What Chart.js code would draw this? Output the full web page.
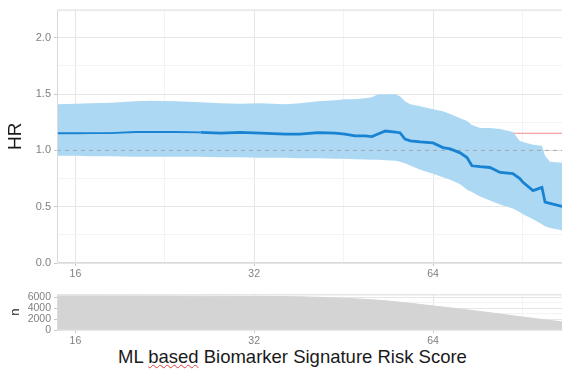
<!DOCTYPE html>
<html>
<head>
<meta charset="utf-8">
<script src="https://cdn.jsdelivr.net/npm/chart.js@4/dist/chart.umd.min.js"></script>
<style>
    html, body { margin: 0; padding: 0; background: #fff; }
    body { width: 562px; height: 369px; position: relative; overflow: hidden; font-family: "Liberation Sans", Arial, sans-serif; }
    #hrChart { position: absolute; left: 0; top: 0; }
    #nChart { position: absolute; left: 0; top: 285px; }
    #xTitle { position: absolute; left: 118px; top: 347px; font-size: 18.5px; line-height: 19px; color: #1a1a1a; white-space: nowrap; }
    #xTitle span { text-decoration: underline wavy #e04040; text-decoration-thickness: 1px; text-underline-offset: 1px; }
</style>
</head>
<body>
<canvas id="hrChart" width="562" height="285"></canvas>
<canvas id="nChart" width="562" height="60"></canvas>
<div id="xTitle">ML <span>based</span> Biomarker Signature Risk Score</div>
<script>
// risk score cut-offs (x axis is log2)
const scores = [14.9, 16.0, 17.0, 18.3, 20.2, 21.4, 23.6, 26.0, 28.1, 30.3, 32.8, 36.1, 38.2, 41.0, 43.8,
    45.5, 47.3, 49.2, 50.5, 51.7, 53.2, 55.3, 56.3, 57.4, 58.6, 60.9, 64.0, 66.5, 68.4, 71.1, 73.0, 74.4,
    76.8, 79.8, 83.0, 87.2, 89.6, 90.7, 94.3, 97.6, 98.8, 100.7, 105.5];

// hazard ratio and 95% CI at each cut-off
const hr = [1.152, 1.152, 1.154, 1.154, 1.163, 1.163, 1.163, 1.159, 1.154, 1.159, 1.154, 1.145, 1.145, 1.157, 1.154,
    1.145, 1.128, 1.128, 1.122, 1.145, 1.172, 1.163, 1.157, 1.101, 1.084, 1.075, 1.066, 1.025, 1.013, 0.978, 0.937, 0.863,
    0.855, 0.848, 0.804, 0.793, 0.749, 0.716, 0.643, 0.672, 0.540, 0.529, 0.502];
const hrUpper = [1.410, 1.414, 1.419, 1.423, 1.436, 1.441, 1.436, 1.427, 1.419, 1.414, 1.419, 1.410, 1.419, 1.436, 1.445,
    1.454, 1.454, 1.463, 1.471, 1.498, 1.498, 1.498, 1.480, 1.436, 1.410, 1.392, 1.366, 1.348, 1.322, 1.286, 1.260, 1.225,
    1.198, 1.198, 1.189, 1.163, 1.084, 1.075, 1.049, 1.040, 0.952, 0.899, 0.890];
const hrLower = [0.952, 0.952, 0.947, 0.947, 0.943, 0.943, 0.943, 0.943, 0.940, 0.938, 0.934, 0.934, 0.930, 0.930, 0.925,
    0.925, 0.921, 0.918, 0.916, 0.916, 0.912, 0.907, 0.899, 0.885, 0.865, 0.828, 0.793, 0.762, 0.740, 0.700, 0.650, 0.630,
    0.590, 0.555, 0.520, 0.485, 0.450, 0.432, 0.388, 0.345, 0.326, 0.310, 0.291];

const overallHr = 1.152;
const refHr = 1.0;

// number of patients per cut-off
const nScores = [14.9, 20, 26, 32, 36, 41, 45.2, 52.1, 58, 64, 70, 76.8, 83, 89.6, 97, 105.5];
const nPatients = [6260, 6250, 6220, 6190, 6150, 6020, 5850, 5450, 4950, 4430, 3940, 3410, 2930, 2450, 1980, 1490];

// axis ticks
const xTicks = [16, 32, 64];
const hrTicks = [0, 0.5, 1.0, 1.5, 2.0];
const nTicks = [0, 2000, 4000, 6000];

const xMin = Math.log2(scores[0]);
const xMax = Math.log2(scores[scores.length - 1]);
const toPoints = (xs, ys) => xs.map((s, i) => ({ x: Math.log2(s), y: ys[i] }));

const fontFamily = '"Liberation Sans", Arial, sans-serif';
const tickFont = { family: fontFamily, size: 10.5 };
const tickColor = '#808080';
const gridMajor = '#e6e6e6';
const gridMinor = '#f3f3f3';

// 面板边框 (top / left / bottom)
const panelBorder = {
    id: 'panelBorder',
    afterDraw(chart) {
        const { ctx, chartArea: a } = chart;
        ctx.save();
        ctx.strokeStyle = '#dadada';
        ctx.lineWidth = 1;
        ctx.beginPath();
        ctx.moveTo(chart.width, a.top + 0.5);
        ctx.lineTo(a.left + 0.5, a.top + 0.5);
        ctx.lineTo(a.left + 0.5, a.bottom - 0.5);
        ctx.lineTo(chart.width, a.bottom - 0.5);
        ctx.stroke();
        ctx.restore();
    }
};

// x axis shared by both panels: log2 score, minor lines half way
function xScale(height) {
    const majors = xTicks.map(t => Math.log2(t));
    return {
        type: 'linear',
        min: xMin,
        max: xMax,
        afterBuildTicks: scale => {
            const vals = [];
            majors.forEach(v => { vals.push(v - 0.5, v); });
            vals.push(majors[majors.length - 1] + 0.5);
            scale.ticks = vals.filter(v => v >= xMin && v <= xMax).map(v => ({ value: v }));
        },
        afterFit: scale => { scale.height = height; },
        ticks: {
            autoSkip: false,
            maxRotation: 0,
            padding: 2,
            color: tickColor,
            font: tickFont,
            callback: v => Number.isInteger(v) ? String(Math.round(2 ** v)) : ''
        },
        grid: {
            color: c => c.tick && Number.isInteger(c.tick.value) ? gridMajor : gridMinor,
            tickColor: c => c.tick && Number.isInteger(c.tick.value) ? '#c8c8c8' : 'rgba(0,0,0,0)',
            tickLength: 3
        },
        border: { display: false }
    };
}

// y axis with labelled majors and unlabelled minors in between
function yScale(max, majors, step, title, titleSize, titlePad, fontSize, fmt) {
    return {
        min: 0,
        max: max,
        afterBuildTicks: scale => {
            const vals = [];
            majors.forEach(v => { vals.push(v, v + step); });
            scale.ticks = vals.filter(v => v <= majors[majors.length - 1]).map(v => ({ value: v }));
        },
        afterFit: scale => { scale.width = 57; },
        title: {
            display: true,
            text: title,
            color: '#1a1a1a',
            font: { family: fontFamily, size: titleSize },
            padding: { top: titlePad, bottom: 0 }
        },
        ticks: {
            autoSkip: false,
            padding: 3,
            color: tickColor,
            font: { family: fontFamily, size: fontSize },
            callback: v => majors.includes(v) ? fmt(v) : ''
        },
        grid: {
            color: c => c.tick && majors.includes(c.tick.value) ? gridMajor : gridMinor,
            tickColor: c => c.tick && majors.includes(c.tick.value) ? '#c8c8c8' : 'rgba(0,0,0,0)',
            tickLength: 3
        },
        border: { display: false }
    };
}

new Chart(document.getElementById('hrChart'), {
    type: 'line',
    data: {
        datasets: [
            {
                data: toPoints(scores, hr),
                borderColor: '#1883d2',
                borderWidth: 2.6,
                pointRadius: 0,
                tension: 0,
                order: 0,
                segment: {
                    borderWidth: c => c.p0.parsed.x < Math.log2(26) ? 1.8 : 2.8
                }
            },
            {
                data: toPoints([scores[0], scores[scores.length - 1]], [refHr, refHr]),
                borderColor: '#a0a8b0',
                borderWidth: 1,
                borderDash: [4, 4],
                pointRadius: 0,
                order: 1
            },
            {
                data: toPoints(scores, hrUpper),
                borderWidth: 0,
                pointRadius: 0,
                backgroundColor: '#acd8f3',
                fill: '+1',
                order: 2
            },
            {
                data: toPoints(scores, hrLower),
                borderWidth: 0,
                pointRadius: 0,
                order: 3
            },
            {
                data: toPoints([scores[0], scores[scores.length - 1]], [overallHr, overallHr]),
                borderColor: '#f08a8a',
                borderWidth: 1,
                pointRadius: 0,
                order: 4
            }
        ]
    },
    options: {
        responsive: false,
        animation: false,
        layout: { padding: { top: 8, right: 0, left: 0, bottom: 0 } },
        plugins: { legend: { display: false }, tooltip: { enabled: false } },
        scales: {
            x: xScale(22),
            y: yScale(2.25, hrTicks, 0.25, 'HR', 19, 4, 11, v => v.toFixed(1))
        }
    },
    plugins: [panelBorder]
});

new Chart(document.getElementById('nChart'), {
    type: 'line',
    data: {
        datasets: [{
            data: toPoints(nScores, nPatients),
            borderColor: '#d4d4d4',
            borderWidth: 1,
            backgroundColor: '#d4d4d4',
            fill: 'origin',
            pointRadius: 0,
            cubicInterpolationMode: 'monotone'
        }]
    },
    options: {
        responsive: false,
        animation: false,
        layout: { padding: { top: 6, right: 0, left: 0, bottom: 0 } },
        plugins: { legend: { display: false }, tooltip: { enabled: false } },
        scales: {
            x: xScale(15),
            y: yScale(6560, nTicks, 1000, 'n', 13, 8, 10.5, v => String(v))
        }
    },
    plugins: [panelBorder]
});
</script>
</body>
</html>
